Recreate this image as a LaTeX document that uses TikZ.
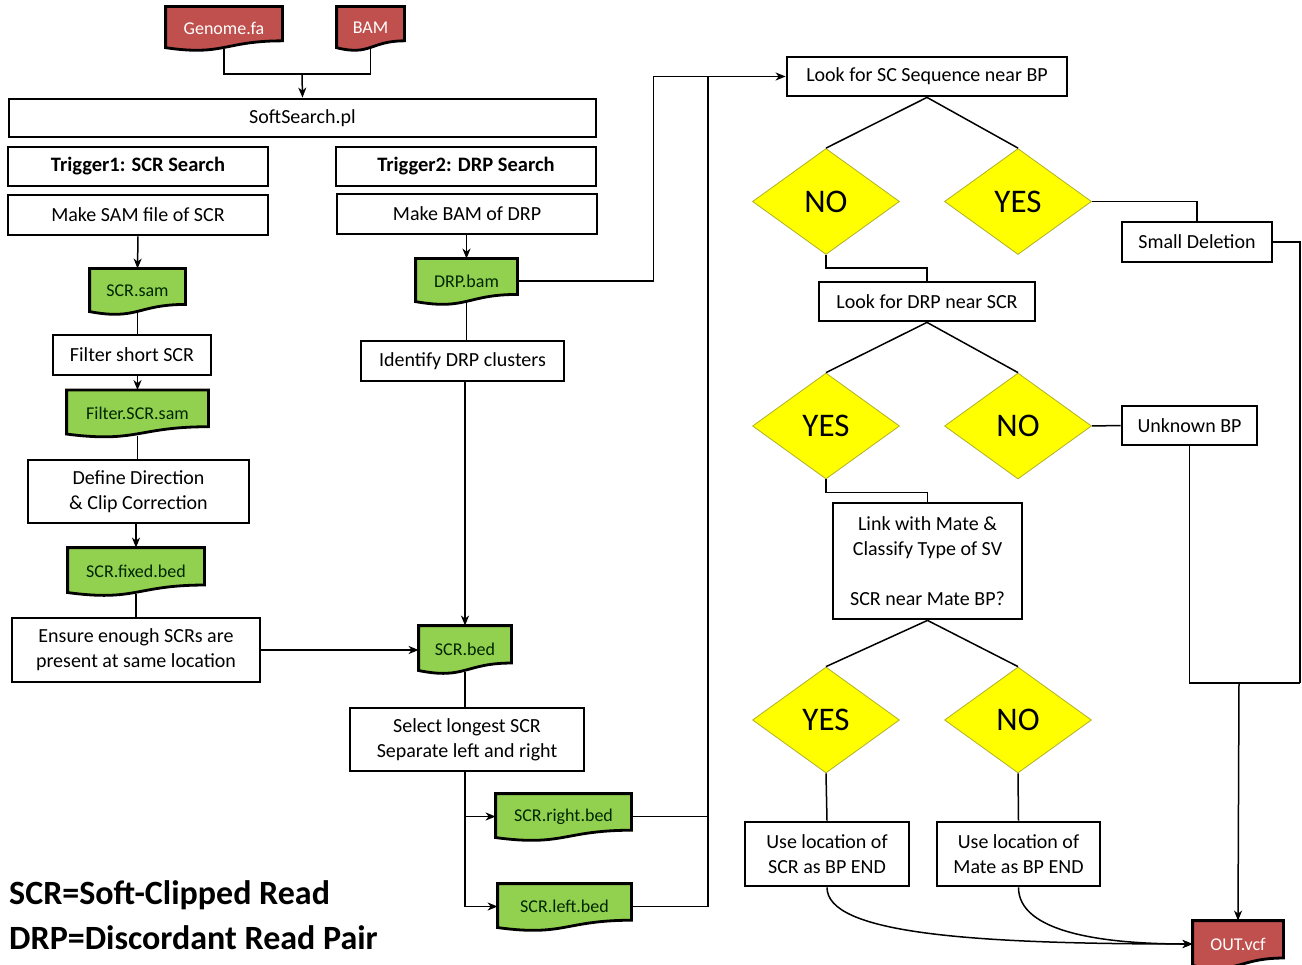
\documentclass[tikz,border=0pt]{standalone}
\usepackage{fontspec}
\setmainfont{Carlito}
\usepackage{xcolor}
\usetikzlibrary{arrows, arrows.meta}
\usetikzlibrary{shapes.geometric}
\definecolor{docred}{RGB}{192,80,77}
\definecolor{docgreen}{RGB}{146,208,80}
\definecolor{diayellow}{RGB}{255,255,0}
\definecolor{diaedge}{RGB}{175,175,40}

% file shape: rectangle with a wavy bottom
\makeatletter
\newdimen\wdocxa \newdimen\wdocxb \newdimen\wdocxc
\newdimen\wdocya \newdimen\wdocyb \newdimen\wdoch
\newdimen\wdocyr \newdimen\wdocyl \newdimen\wdocyc
\pgfdeclareshape{wavedoc}{
  \inheritsavedanchors[from=rectangle]
  \inheritanchorborder[from=rectangle]
  \inheritanchor[from=rectangle]{center}
  \inheritanchor[from=rectangle]{north}
  \inheritanchor[from=rectangle]{south}
  \inheritanchor[from=rectangle]{east}
  \inheritanchor[from=rectangle]{west}
  \inheritanchor[from=rectangle]{north east}
  \inheritanchor[from=rectangle]{north west}
  \inheritanchor[from=rectangle]{south east}
  \inheritanchor[from=rectangle]{south west}
  \backgroundpath{%
    \southwest \wdocxa=\pgf@x \wdocya=\pgf@y
    \northeast \wdocxb=\pgf@x \wdocyb=\pgf@y
    \wdoch=\wdocyb \advance\wdoch by -\wdocya
    \wdocxc=.5\wdocxa \advance\wdocxc by .5\wdocxb
    \wdocyr=\wdocya \advance\wdocyr by .2\wdoch
    \wdocyl=\wdocya \advance\wdocyl by .04\wdoch
    \wdocyc=\wdocya \advance\wdocyc by -.16\wdoch
    \pgfpathmoveto{\pgfqpoint{\wdocxa}{\wdocyb}}%
    \pgfpathlineto{\pgfqpoint{\wdocxb}{\wdocyb}}%
    \pgfpathlineto{\pgfqpoint{\wdocxb}{\wdocyr}}%
    \pgfpathcurveto{\pgfqpoint{\wdocxc}{\wdocyr}}{\pgfqpoint{\wdocxc}{\wdocyc}}{\pgfqpoint{\wdocxa}{\wdocyl}}%
    \pgfpathclose
  }
}
\makeatother

\begin{document}
\begin{tikzpicture}[x=1pt,y=-1pt,
  box/.style={draw, line width=2.8pt, fill=white, inner sep=0pt, align=center, font=\fontsize{20}{25}\selectfont},
  boldbox/.style={box, font=\fontsize{20.5}{25}\selectfont\bfseries},
  reddoc/.style={shape=wavedoc, draw, line width=2.8pt, fill=docred, text=white, inner sep=0pt, font=\fontsize{18}{22}\selectfont},
  greendoc/.style={reddoc, fill=docgreen, text=black!85!green},
  choice/.style={diamond, draw=diaedge, line width=0.8pt, fill=diayellow, minimum width=147pt, minimum height=106pt, inner sep=0pt, font=\fontsize{33}{36}\selectfont},
  legend/.style={anchor=west, inner sep=0pt, font=\fontsize{34}{40}\selectfont\bfseries},
  wire/.style={line width=1.5pt},
  arr/.style={wire, -{Stealth[length=10pt, width=8pt, inset=3pt]}}]
\useasboundingbox (0,0) rectangle (1302,965);

% inputs and main script
\node[reddoc, minimum width=114pt, minimum height=40pt] (genome) at (224,28) {Genome.fa};
\node[reddoc, minimum width=65pt, minimum height=40pt] (bam) at (370.5,28) {BAM};
\node[box, minimum width=587pt, minimum height=38pt] (soft) at (302.5,118) {SoftSearch.pl};
\coordinate (join) at (302,74);

% left column: SCR
\node[boldbox, minimum width=260pt, minimum height=39pt] (trig1) at (138,166.5) {Trigger1: SCR Search};
\node[box, minimum width=260pt, minimum height=40pt] (makesam) at (138,215) {Make SAM file of SCR};
\node[greendoc, minimum width=93pt, minimum height=42pt] (scrsam) at (137.5,291) {SCR.sam};
\node[box, minimum width=158pt, minimum height=40pt] (filtshort) at (132,355) {Filter short SCR};
\node[greendoc, minimum width=139pt, minimum height=43pt] (filtsam) at (137.5,413) {Filter.SCR.sam};
\node[box, minimum width=221pt, minimum height=63pt] (define) at (138.5,491.5) {Define Direction\\\& Clip Correction};
\node[greendoc, minimum width=134pt, minimum height=44pt] (fixed) at (136,571) {SCR.fixed.bed};
\node[box, minimum width=248pt, minimum height=64pt] (ensure) at (136,650) {Ensure enough SCRs are\\present at same location};

% middle column: DRP
\node[boldbox, minimum width=260pt, minimum height=39pt] (trig2) at (466,166.5) {Trigger2: DRP Search};
\node[box, minimum width=260pt, minimum height=40pt] (makebam) at (467,214) {Make BAM of DRP};
\node[greendoc, minimum width=99pt, minimum height=42pt] (drpbam) at (466.5,281) {DRP.bam};
\node[box, minimum width=203pt, minimum height=40pt] (identify) at (462.5,361) {Identify DRP clusters};
\node[greendoc, minimum width=90pt, minimum height=44pt] (scrbed) at (465,649) {SCR.bed};
\node[box, minimum width=234pt, minimum height=63pt] (select) at (467,739.5) {Select longest SCR\\Separate left and right};
\node[greendoc, minimum width=133pt, minimum height=43pt] (rightbed) at (563.5,816.5) {SCR.right.bed};
\node[greendoc, minimum width=131pt, minimum height=43pt] (leftbed) at (564.5,906.5) {SCR.left.bed};
\coordinate (bus) at (708,76.5);

% right part: decisions
\node[box, minimum width=280pt, minimum height=39pt] (looksc) at (927,76.5) {Look for SC Sequence near BP};
\node[choice] (no1) at (826,201.5) {NO};
\node[choice] (yes1) at (1018,201.5) {YES};
\node[box, minimum width=150pt, minimum height=40pt] (smalldel) at (1197,242) {Small Deletion};
\node[box, minimum width=216pt, minimum height=39pt] (lookdrp) at (927,301.5) {Look for DRP near SCR};
\node[choice] (yes2) at (826,426) {YES};
\node[choice] (no2) at (1018,426) {NO};
\node[box, minimum width=135pt, minimum height=39pt] (unknown) at (1189.5,425.5) {Unknown BP};
\node[box, minimum width=189pt, minimum height=116pt] (linkbox) at (927.5,561) {Link with Mate \&\\Classify Type of SV\\[25pt]SCR near Mate BP?};
\node[choice] (yes3) at (826,720) {YES};
\node[choice] (no3) at (1018,720) {NO};
\node[box, minimum width=164pt, minimum height=64pt] (scrend) at (827,854) {Use location of\\SCR as BP END};
\node[box, minimum width=163pt, minimum height=64pt] (mateend) at (1018.5,854) {Use location of\\Mate as BP END};
\node[reddoc, minimum width=88pt, minimum height=44pt] (out) at (1238,944) {OUT.vcf};
\coordinate (edge) at (1300,683);
\coordinate (merge) at (1239,683);

\node[legend] (legscr) at (9,895) {SCR=Soft-Clipped Read};
\node[legend] (legdrp) at (9,938) {DRP=Discordant Read Pair};

% connectors
\draw[wire] (genome.south) |- (join) -| (bam.south);
\draw[arr] (join) -- (soft.north);
\draw[arr] (makesam.south) -- (scrsam.north);
\draw[wire] (scrsam.south) -- (scrsam.south |- filtshort.north);
\draw[arr] (filtsam.north |- filtshort.south) -- (filtsam.north);
\draw[wire] (filtsam.south) -- (filtsam.south |- define.north);
\draw[arr] (fixed.north |- define.south) -- (fixed.north);
\draw[wire] (fixed.south) -- (fixed.south |- ensure.north);
\draw[arr] (ensure.east) -- (ensure.east -| scrbed.west);

\draw[arr] (makebam.south -| drpbam.north) -- (drpbam.north);
\draw[arr] (drpbam.east) -- ++(136,0) |- (looksc.west);
\draw[wire] (drpbam.south) -- (drpbam.south |- identify.north);
\draw[arr] (scrbed.north |- identify.south) -- (scrbed.north);
\draw[wire] (scrbed.south) -- (scrbed.south |- select.north);
\draw[arr] (scrbed.south |- select.south) |- (rightbed.west);
\draw[arr] (scrbed.south |- select.south) |- (leftbed.west);
\draw[wire] (rightbed.east) -| (bus);
\draw[wire] (leftbed.east) -| (bus);

\draw[wire] (looksc.south) -- (no1.north);
\draw[wire] (looksc.south) -- (yes1.north);
\draw[wire] (yes1.east) -| (smalldel.north);
\draw[wire] (no1.south) -- ++(0,13) -| (lookdrp.north);
\draw[wire] (lookdrp.south) -- (yes2.north);
\draw[wire] (lookdrp.south) -- (no2.north);
\draw[wire] (no2.east) -- (unknown.west);
\draw[wire] (yes2.south) -- ++(0,13) -| (linkbox.north);
\draw[wire] (linkbox.south) -- (yes3.north);
\draw[wire] (linkbox.south) -- (no3.north);
\draw[wire] (yes3.south) -- (scrend.north);
\draw[wire] (no3.south) -- (mateend.north);

\draw[wire] (smalldel.east) -| (edge);
\draw[wire] (unknown.south) |- (edge);
\draw[arr] (merge) -- (out.north);
\draw[arr] (scrend.south) .. controls +(0,45) and +(-230,0) .. (out.west);
\draw[arr] (mateend.south) .. controls +(0,45) and +(-90,0) .. (out.west);
\end{tikzpicture}
\end{document}
